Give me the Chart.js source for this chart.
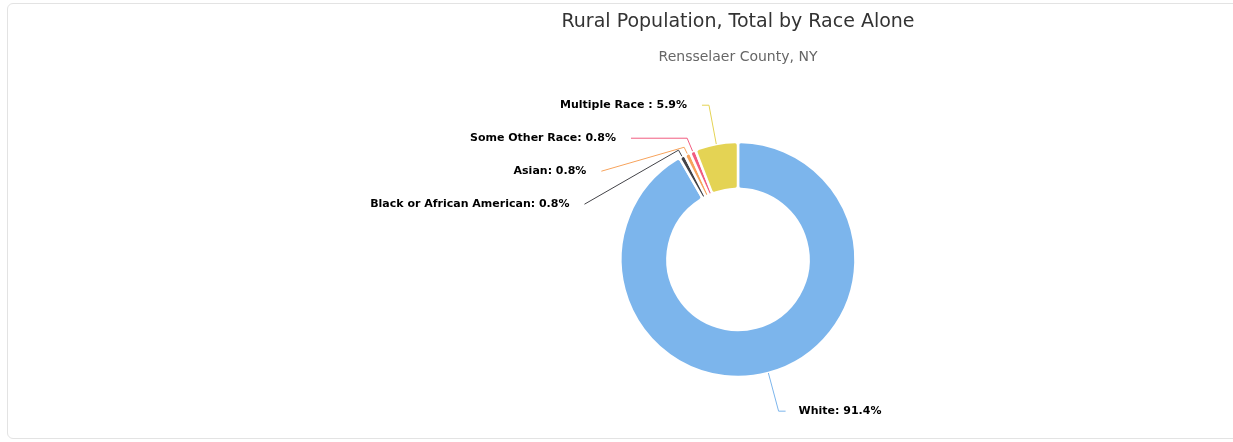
<!DOCTYPE html>
<html>
<head>
<meta charset="utf-8">
<script src="https://cdn.jsdelivr.net/npm/chart.js@4/dist/chart.umd.min.js"></script>
<style>
  html, body { margin: 0; padding: 0; background: #ffffff; overflow: hidden; }
  #frame { position: absolute; left: 7px; top: 3px; width: 1460px; height: 436px;
           border: 1px solid #e3e3e3; border-radius: 6px; box-sizing: border-box; }
  #wrap { position: absolute; left: 0; top: 0; width: 1233px; height: 442px; }
</style>
</head>
<body>
<div id="frame"></div>
<div id="wrap"><canvas id="c" width="1233" height="442"></canvas></div>
<script>
// ---- data ----
const categories = ['White', 'Black or African American', 'Asian', 'Some Other Race', 'Multiple Race '];
const shares = [91.4, 0.8, 0.8, 0.8, 5.9];
const sliceColors = ['#7cb5ec', '#434348', '#f7a35c', '#f15c80', '#e4d354'];
const titleText = 'Rural Population, Total by Race Alone';
const subtitleText = 'Rensselaer County, NY';

const FONT = '"DejaVu Sans", Verdana, sans-serif';

const pieLabels = {
  id: 'pieLabels',
  afterDatasetsDraw(chart) {
    const ctx = chart.ctx;
    const meta = chart.getDatasetMeta(0);
    const items = meta.data.map((arc, i) => {
      const p = arc.getProps(['x', 'y', 'startAngle', 'endAngle', 'outerRadius'], true);
      const mid = (p.startAngle + p.endAngle) / 2;
      const cos = Math.cos(mid), sin = Math.sin(mid);
      const R = p.outerRadius + 39.5;
      return {
        i, cx: p.x, cy: p.y, r: p.outerRadius, cos, sin,
        left: cos < 0,
        nx: p.x + cos * R, ny: p.y + sin * R
      };
    });
    ['L', 'R'].forEach(side => {
      const group = items.filter(it => (side === 'L') === it.left).sort((a, b) => a.ny - b.ny);
      let prev = -Infinity;
      group.forEach(it => {
        it.y = Math.max(it.ny, prev + 33);
        it.moved = it.y - it.ny > 0.5;
        prev = it.y;
      });
    });
    ctx.save();
    items.forEach(it => {
      const sgn = it.left ? -1 : 1;
      let lx;
      if (it.moved) {
        const Rx = it.r + 41;
        const dy = it.y - it.cy;
        lx = it.cx + sgn * (Math.sqrt(Math.max(Rx * Rx - dy * dy, 0)) + 5);
      } else {
        lx = it.nx + sgn * 7;
      }
      const T = { x: it.cx + it.cos * it.r, y: it.cy + it.sin * it.r };
      // elbow: on the slice ray at the label's height, but never closer than r + 7
      let d = Math.abs(it.sin) > 0.05 ? (it.y - it.cy) / it.sin : it.r + 7;
      if (!(d >= it.r + 7)) d = it.r + 7;
      const E = { x: it.cx + it.cos * d, y: it.cy + it.sin * d };
      ctx.beginPath();
      ctx.moveTo(lx, it.y);
      ctx.lineTo(E.x, E.y);
      ctx.lineTo(T.x, T.y);
      ctx.strokeStyle = sliceColors[it.i];
      ctx.lineWidth = 1;
      ctx.lineJoin = 'miter';
      ctx.stroke();

      const txt = categories[it.i] + ': ' + shares[it.i].toFixed(1) + '%';
      ctx.font = 'bold 11px ' + FONT;
      ctx.textBaseline = 'middle';
      ctx.textAlign = it.left ? 'right' : 'left';
      const tx = it.left ? lx - 15 : lx + 13;
      ctx.lineWidth = 2;
      ctx.strokeStyle = '#ffffff';
      ctx.lineJoin = 'round';
      ctx.strokeText(txt, tx, it.y);
      ctx.fillStyle = '#000000';
      ctx.fillText(txt, tx, it.y);
    });
    ctx.restore();
  }
};

new Chart(document.getElementById('c'), {
  type: 'doughnut',
  data: {
    labels: categories,
    datasets: [{
      data: shares,
      backgroundColor: sliceColors,
      borderColor: '#ffffff',
      borderWidth: 2.5,
      borderRadius: 3,
      hoverOffset: 0
    }]
  },
  options: {
    responsive: false,
    animation: false,
    radius: 117.5,
    cutout: '60%',
    layout: { padding: { left: 243, right: 0, top: 0, bottom: 0 } },
    plugins: {
      legend: { display: false },
      tooltip: { enabled: false },
      title: {
        display: true, text: titleText, color: '#333333',
        font: { family: FONT, size: 19, weight: 'normal' },
        padding: { top: 11, bottom: 0 }
      },
      subtitle: {
        display: true, text: subtitleText, color: '#666666',
        font: { family: FONT, size: 14, weight: 'normal' },
        padding: { top: 15, bottom: 11.4 }
      }
    }
  },
  plugins: [pieLabels]
});
</script>
</body>
</html>
